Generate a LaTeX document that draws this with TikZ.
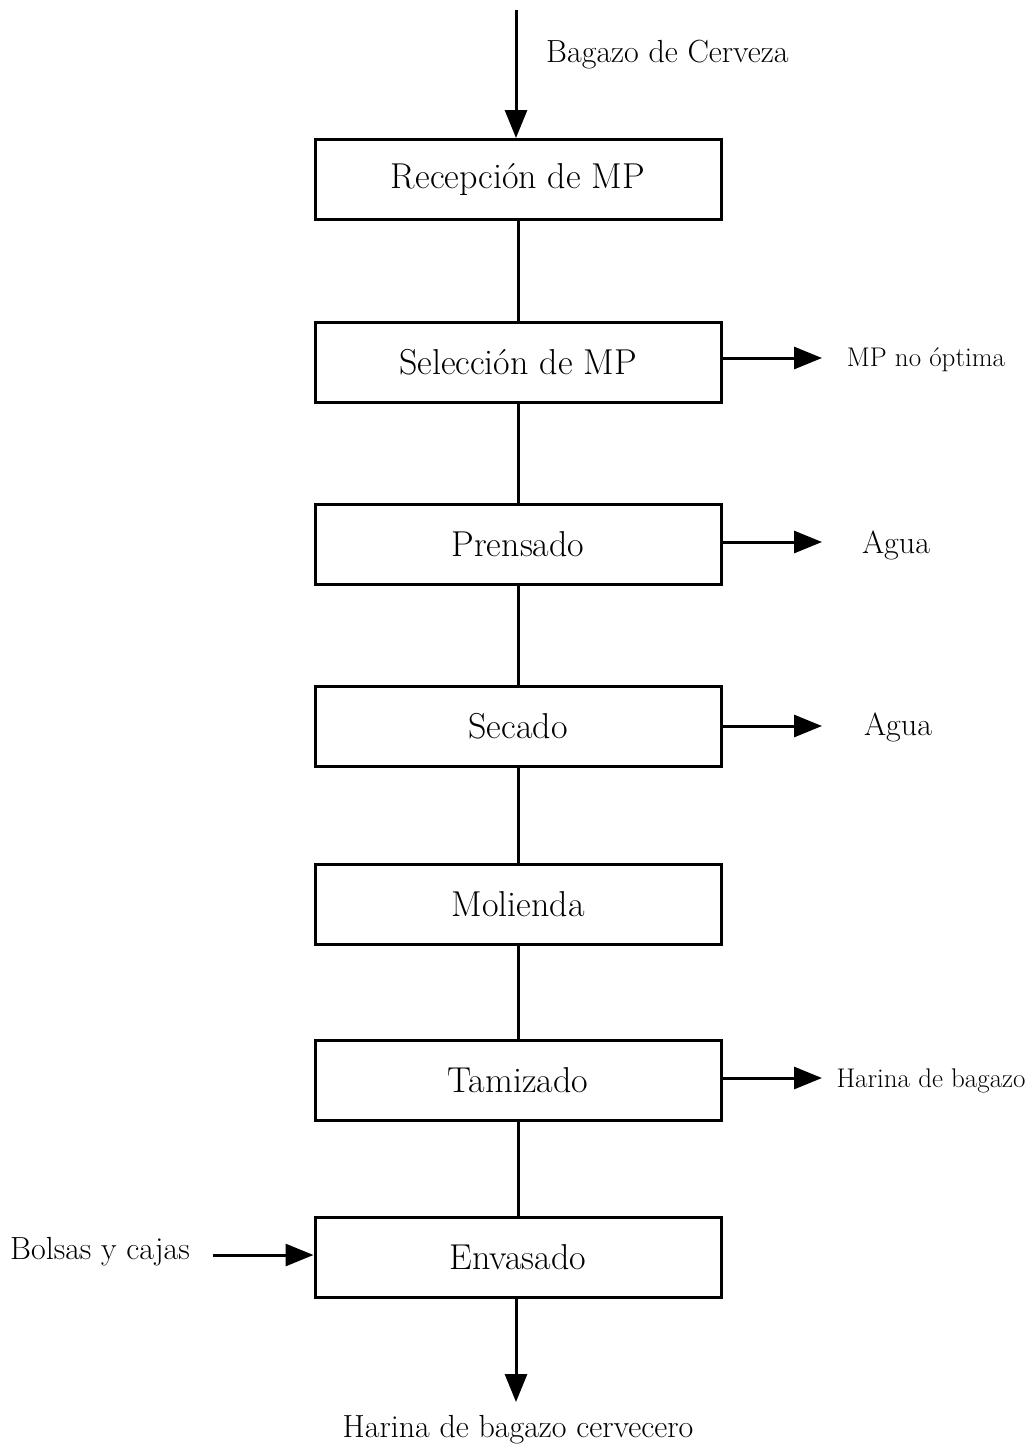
\documentclass[tikz,border=0pt]{standalone}
\usetikzlibrary{arrows.meta}
\begin{document}
\begin{tikzpicture}[x=1pt,y=-1pt,
  procbox/.style={draw,line width=3pt,minimum width=406pt,minimum height=80pt,inner sep=0pt,font=\fontsize{36}{42}\selectfont},
  lbl/.style={font=\fontsize{32}{38}\selectfont,inner sep=0pt},
  tlbl/.style={font=\fontsize{27}{32}\selectfont,inner sep=0pt},
  flow/.style={line width=3pt},
  arr/.style={line width=3pt,-{Triangle[length=28pt,width=22pt]}}]
\useasboundingbox (0,0) rectangle (1035,1449);
\node[procbox] (b1) at (518,179.5) {Recepción de MP};
\node[procbox] (b2) at (518,362.5) {Selección de MP};
\node[procbox] (b3) at (518,544.5) {Prensado};
\node[procbox] (b4) at (518,726.5) {Secado};
\node[procbox] (b5) at (518,904.5) {Molienda};
\node[procbox] (b6) at (518,1080.5) {Tamizado};
\node[procbox] (b7) at (518,1257.5) {Envasado};
\coordinate (top) at (516,10);
\node[lbl,anchor=west] (in1) at (546,55) {Bagazo de Cerveza};
\draw[arr] (top) -- (b1.north -| top);
\draw[flow] (b1) -- (b2);
\draw[flow] (b2) -- (b3);
\draw[flow] (b3) -- (b4);
\draw[flow] (b4) -- (b5);
\draw[flow] (b5) -- (b6);
\draw[flow] (b6) -- (b7);
\node[tlbl] (o2) at (926,360) {MP no óptima};
\node[lbl] (o3) at (896,545) {Agua};
\node[lbl] (o4) at (898,727) {Agua};
\node[tlbl] (o6) at (931,1081) {Harina de bagazo};
\coordinate (e2) at (822,358);
\coordinate (e3) at (822,542);
\coordinate (e4) at (822,726);
\coordinate (e6) at (822,1078);
\draw[arr] (b2.east |- e2) -- (e2);
\draw[arr] (b3.east |- e3) -- (e3);
\draw[arr] (b4.east |- e4) -- (e4);
\draw[arr] (b6.east |- e6) -- (e6);
\node[lbl] (in7) at (100,1252) {Bolsas y cajas};
\coordinate (s7) at (213,1255);
\draw[arr] (s7) -- (b7.west |- s7);
\coordinate (e7) at (516,1402);
\draw[arr] (b7.south -| e7) -- (e7);
\node[lbl] (out) at (518,1430) {Harina de bagazo cervecero};
\end{tikzpicture}
\end{document}
